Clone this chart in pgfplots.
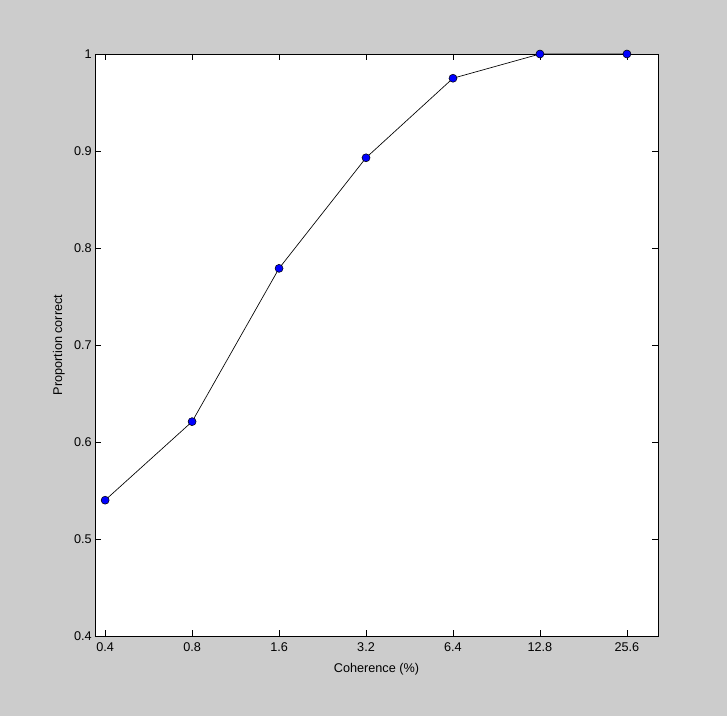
\documentclass[border=0pt]{standalone}
\usepackage{pgfplots}
\pgfplotsset{compat=1.18}
\usepackage{fontspec}
\setmainfont{Liberation Sans}
\definecolor{bg}{HTML}{CCCCCC}
\definecolor{mk}{HTML}{0000FF}
\begin{document}
\begin{tikzpicture}
\fill[bg] (0pt,0pt) rectangle (545.25pt,537pt);
\begin{axis}[
  at={(71.25pt,60pt)}, anchor=south west,
  scale only axis,
  width=422.25pt, height=436.5pt,
  axis background/.style={fill=white},
  xmode=log, log basis x=2,
  xmin=0.369, xmax=32.8,
  ymin=0.4, ymax=1,
  xtick={0.4,0.8,1.6,3.2,6.4,12.8,25.6},
  xticklabels={0.4,0.8,1.6,3.2,6.4,12.8,25.6},
  ytick={0.4,0.5,0.6,0.7,0.8,0.9,1},
  yticklabels={0.4,0.5,0.6,0.7,0.8,0.9,1},
  tick pos=both, tick align=inside,
  major tick length=4.5pt,
  minor tick num=0,
  tick label style={font=\fontsize{9.5}{11}\selectfont},
  xticklabel style={yshift=-1.5pt},
  yticklabel style={xshift=1pt},
  label style={font=\fontsize{9.5}{11}\selectfont},
  xlabel={Coherence (\%)},
  xlabel style={yshift=-1.5pt},
  ylabel={Proportion correct},
  axis line style={black, line width=0.6pt},
  every tick/.style={black, line width=0.6pt},
  clip=false,
]
\addplot[black, line width=0.5pt, mark=*, mark size=3pt,
  mark options={fill=mk, draw=black, line width=0.4pt}]
  coordinates {
  (0.4,0.540) (0.8,0.621) (1.6,0.779) (3.2,0.893) (6.4,0.975) (12.8,1.0) (25.6,1.0)
  };
\end{axis}
\end{tikzpicture}
\end{document}
